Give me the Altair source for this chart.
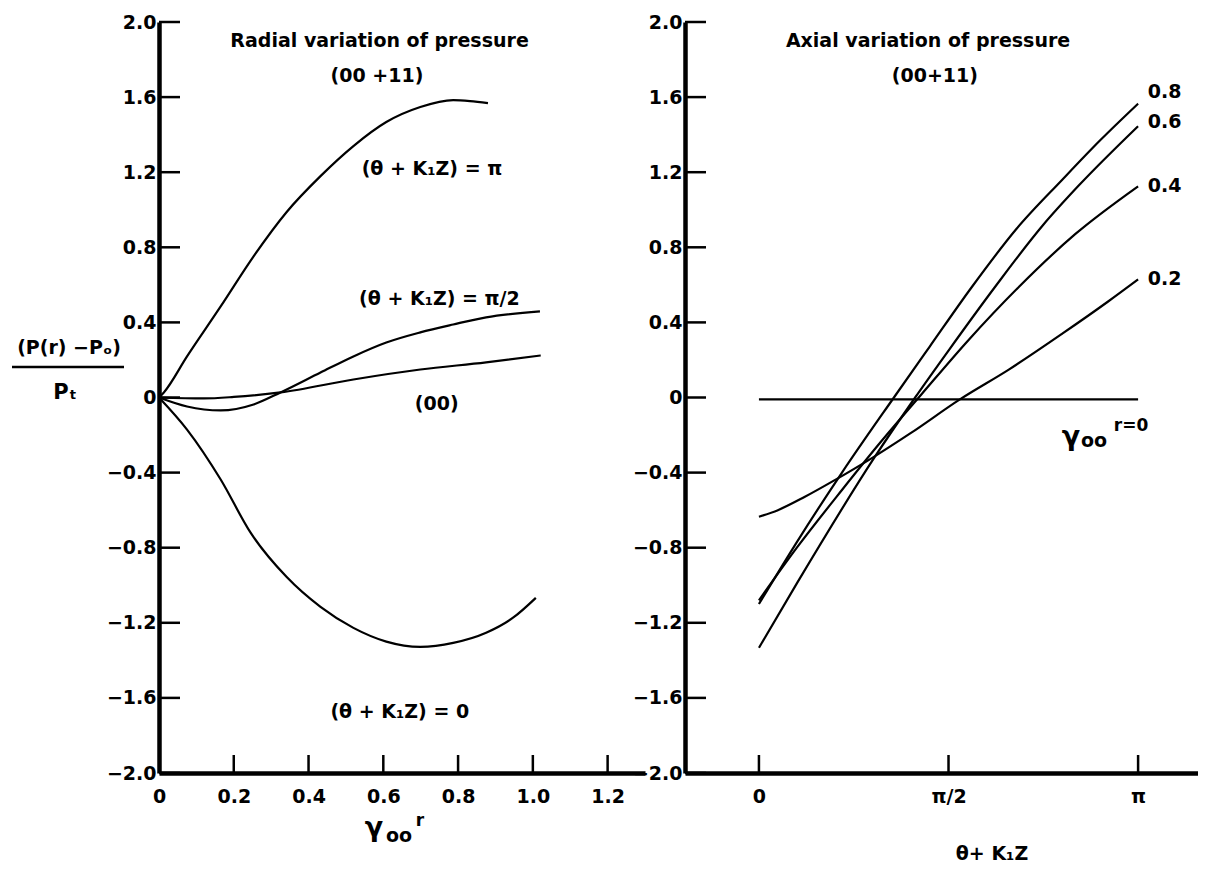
import altair as alt
import pandas as pd

FONT = "DejaVu Sans"
WEIGHT = "bold"

# ---------------- Left panel: radial variation of pressure (00+11) ----------------
r_pi = [0.0, 0.013, 0.075, 0.165, 0.253, 0.341, 0.432, 0.52, 0.608, 0.699, 0.787, 0.832, 0.88]
p_pi = [0.0, 0.027, 0.219, 0.485, 0.752, 0.987, 1.179, 1.339, 1.467, 1.547, 1.584, 1.579, 1.568]

r_half = [0.0, 0.075, 0.165, 0.253, 0.325, 0.432, 0.52, 0.608, 0.699, 0.787, 0.875, 1.019]
p_half = [0.0, -0.048, -0.069, -0.037, 0.027, 0.133, 0.219, 0.293, 0.347, 0.389, 0.427, 0.459]

r_00 = [0.0, 0.12, 0.2, 0.325, 0.52, 0.699, 0.875, 1.021]
p_00 = [0.0, -0.005, 0.003, 0.027, 0.096, 0.149, 0.187, 0.224]

r_zero = [0.0, 0.075, 0.165, 0.245, 0.341, 0.432, 0.52, 0.608, 0.699, 0.787, 0.875, 0.947, 1.008]
p_zero = [0.0, -0.171, -0.437, -0.72, -0.955, -1.115, -1.227, -1.30, -1.328, -1.307, -1.253, -1.173, -1.067]

# ---------------- Right panel: axial variation (x = (theta + K1 Z) / pi) ----------------
f_08 = [0.0, 0.1, 0.219, 0.356, 0.45, 0.562, 0.68, 0.8, 0.9, 1.0]
p_08 = [-1.10, -0.77, -0.40, 0.0, 0.27, 0.59, 0.90, 1.16, 1.37, 1.565]

f_06 = [0.0, 0.1, 0.306, 0.412, 0.5, 0.623, 0.75, 0.844, 1.0]
p_06 = [-1.333, -0.99, -0.315, 0.0, 0.25, 0.59, 0.92, 1.13, 1.445]

f_04 = [0.0, 0.1, 0.22, 0.32, 0.43, 0.55, 0.686, 0.834, 1.0]
p_04 = [-1.08, -0.80, -0.49, -0.24, 0.02, 0.30, 0.59, 0.87, 1.125]

f_02 = [0.0, 0.05, 0.12, 0.2, 0.3, 0.4, 0.53, 0.66, 0.8, 0.92, 1.0]
p_02 = [-0.635, -0.60, -0.53, -0.44, -0.32, -0.19, -0.01, 0.15, 0.34, 0.51, 0.629]

f_r0 = [0.0, 1.0]
p_r0 = [-0.01, -0.01]

y_ticks = [-2.0, -1.6, -1.2, -0.8, -0.4, 0.0, 0.4, 0.8, 1.2, 1.6, 2.0]
x_ticks_left = [0.0, 0.2, 0.4, 0.6, 0.8, 1.0, 1.2]
x_ticks_right = [0.0, 0.5, 1.0]

W1, W2, H = 486, 513, 751
TXT = 19


def df(xs, ys, name):
    return pd.DataFrame({"x": xs, "y": ys, "s": name})


left_df = pd.concat([df(r_pi, p_pi, "pi"), df(r_half, p_half, "half"),
                     df(r_00, p_00, "00"), df(r_zero, p_zero, "zero")])
right_df = pd.concat([df(f_08, p_08, "0.8"), df(f_06, p_06, "0.6"), df(f_04, p_04, "0.4"),
                      df(f_02, p_02, "0.2"), df(f_r0, p_r0, "r0")])

yscale = alt.Scale(domain=[-2.0, 2.0], nice=False, zero=False)
ylab = "datum.value == 0 ? '0' : format(datum.value, '.1f')"


def axis(values, expr, pad):
    return alt.Axis(values=values, labelExpr=expr, title=None, tickSize=0, labelPadding=pad,
                    domainWidth=4.5, domainColor="black", labelFont=FONT, labelFontSize=TXT,
                    labelFontWeight=WEIGHT, labelColor="black", grid=False, labelFlush=False,
                    labelOverlap=False)


YAX = axis(y_ticks, ylab, 3)


def make_panel(data, xscale, xaxis, xtick_vals, lab_x, lab_y, labels, extras, width):
    X = lambda f: alt.X(f, scale=xscale, axis=xaxis)
    Y = lambda f: alt.Y(f, scale=yscale, axis=YAX)
    lines = alt.Chart(data).mark_line(color="black", strokeWidth=2.2, interpolate="monotone").encode(
        x=X("x:Q"), y=Y("y:Q"), detail="s:N")
    yt = alt.Chart(pd.DataFrame({"v": y_ticks})).mark_rule(color="black", strokeWidth=2.5).encode(
        y=Y("v:Q"), x=alt.value(0), x2=alt.value(21))
    xt = alt.Chart(pd.DataFrame({"v": xtick_vals})).mark_rule(color="black", strokeWidth=2.5).encode(
        x=X("v:Q"), y=alt.value(H), y2=alt.value(H - 18))
    tx = alt.Chart(pd.DataFrame({"x": lab_x, "y": lab_y, "t": labels})).mark_text(
        font=FONT, fontSize=TXT, fontWeight=WEIGHT, color="black").encode(
        x=X("x:Q"), y=Y("y:Q"), text="t:N")
    return alt.layer(lines, yt, xt, tx, *extras).properties(width=width, height=H)


def ptext(x, y, label, size=TXT, align="center"):
    return alt.Chart(pd.DataFrame({"t": [label]})).mark_text(
        font=FONT, fontSize=size, fontWeight=WEIGHT, color="black", align=align,
        baseline="middle").encode(x=alt.value(x), y=alt.value(y), text="t:N")


# ---------------- Left chart ----------------
xs_left = alt.Scale(domain=[0.0, 1.3], nice=False, zero=False)
left_lbl = ["Radial variation of pressure", "(00 +11)", "(θ + K₁Z) = π",
            "(θ + K₁Z) = π/2", "(00)", "(θ + K₁Z) = 0"]
left_lx = [0.59, 0.583, 0.73, 0.75, 0.743, 0.644]
left_ly = [1.9, 1.71, 1.215, 0.522, -0.037, -1.674]

frac_line = alt.Chart(pd.DataFrame({"a": [0]})).mark_rule(color="black", strokeWidth=2.5).encode(
    x=alt.value(-147), x2=alt.value(-35), y=alt.value(345))

left = make_panel(
    left_df, xs_left, axis(x_ticks_left, ylab, 14), x_ticks_left[1:],
    left_lx, left_ly, left_lbl,
    [ptext(-90, 326, "(P(r) −Pₒ)"), frac_line, ptext(-94, 371, "Pₜ", 21),
     ptext(215, 806, "γ", 27), ptext(240, 814, "oo", 19), ptext(261, 799, "r", 17)],
    W1)

# ---------------- Right chart ----------------
xs_right = alt.Scale(domain=[-0.195, 1.158], nice=False, zero=False)
xlab_r = "datum.value == 0 ? '0' : (datum.value < 0.75 ? 'π/2' : 'π')"
right_lbl = ["Axial variation of pressure", "(00+11)", "0.8", "0.6", "0.4", "0.2"]
right_lx = [0.446, 0.464, 1.07, 1.07, 1.07, 1.07]
right_ly = [1.9, 1.71, 1.627, 1.467, 1.125, 0.629]

right = make_panel(
    right_df, xs_right, axis(x_ticks_right, xlab_r, 14), x_ticks_right,
    right_lx, right_ly, right_lbl,
    [ptext(386, 415, "γ", 27), ptext(409, 419, "oo", 19), ptext(446, 404, "r=0", 17),
     ptext(307, 832, "θ+ K₁Z", 19)],
    W2)

chart = alt.hconcat(left, right, spacing=40, bounds="flush").configure_view(
    stroke=None).properties(padding={"left": 2, "top": 5, "right": 0, "bottom": 0})

chart.save("out.html", embed_options={"renderer": "svg", "actions": False})
